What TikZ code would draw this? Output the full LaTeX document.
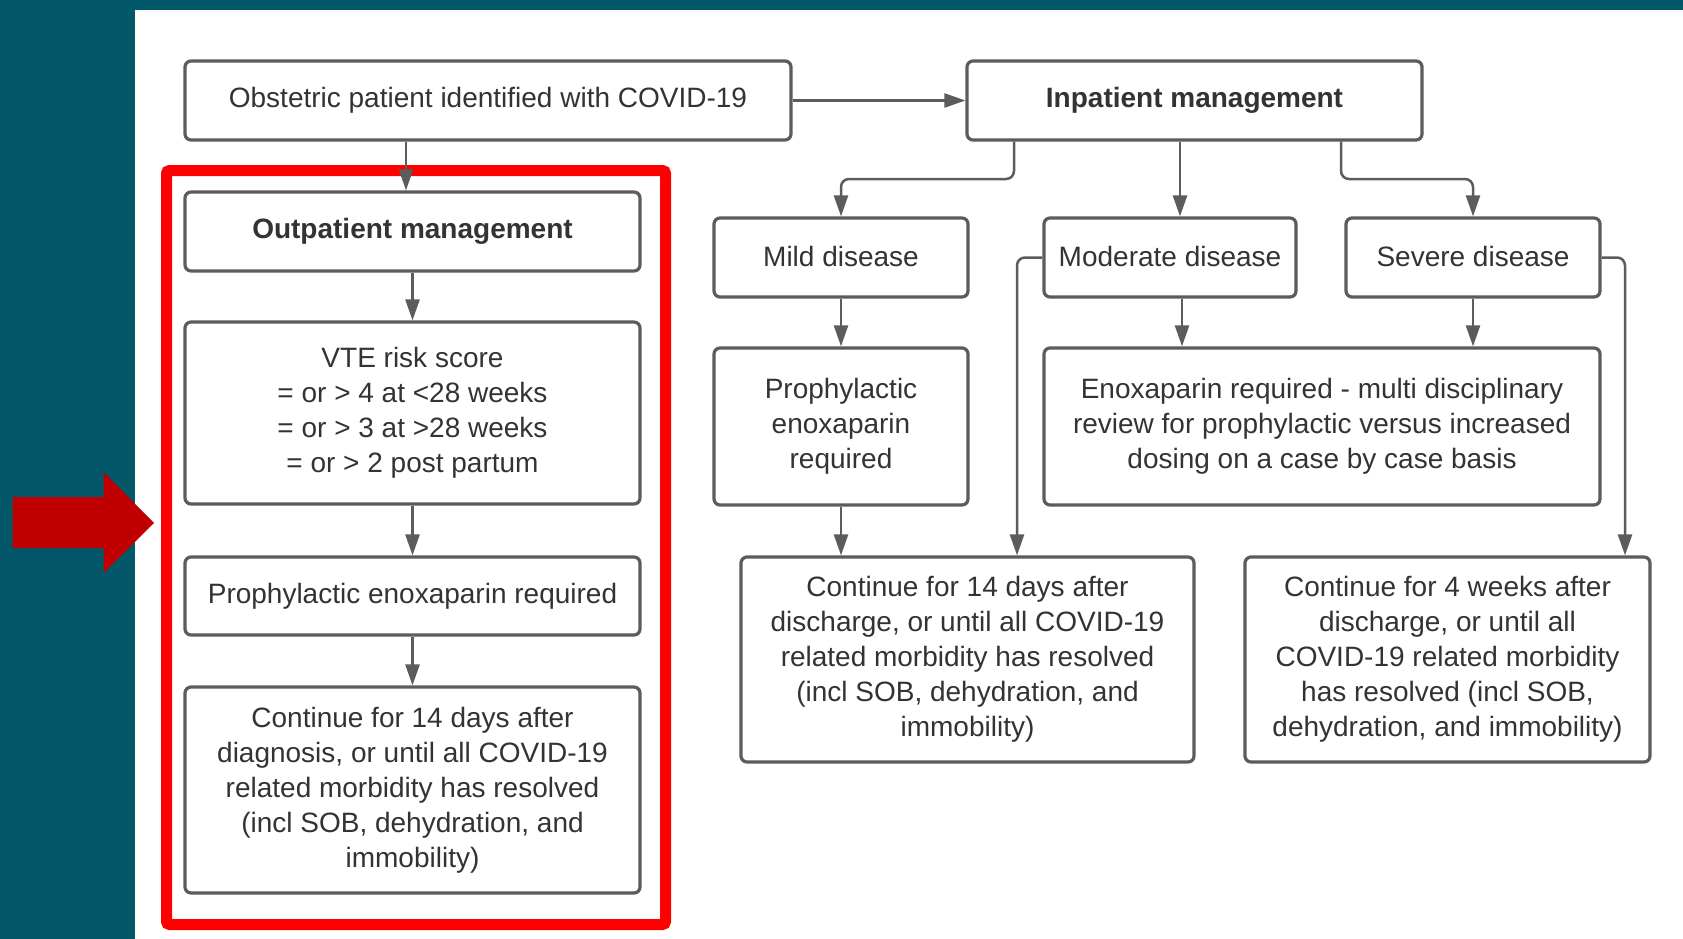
\documentclass[tikz,border=0pt]{standalone}
\usepackage{fontspec}
\setmainfont{Liberation Sans}
\usetikzlibrary{arrows.meta}
\definecolor{teal0}{RGB}{2,87,104}
\definecolor{boxgray}{RGB}{92,92,92}
\definecolor{txt}{RGB}{51,51,51}
\definecolor{darkred}{RGB}{192,0,0}
\definecolor{hlred}{RGB}{255,0,0}
\begin{document}
\begin{tikzpicture}[x=1pt,y=-1pt,
  box/.style={draw=boxgray, line width=3.2pt, rounded corners=6pt, fill=white, text=txt,
    align=center, inner sep=0pt, font=\fontsize{28}{35}\selectfont},
  conn/.style={draw=boxgray, line width=2.5pt, -{Triangle[length=21pt,width=14pt]}, rounded corners=8pt}]
\useasboundingbox (0,0) rectangle (1683,939);
\fill[teal0] (0,0) rectangle (1683,939);
\fill[white] (135,10) rectangle (1683,939);

% highlight frame and pointer
\draw[hlred, line width=11pt, rounded corners=3pt] (166.5,170.5) rectangle (665.5,924.5);
\fill[darkred] (12.5,497) -- (103.6,497) -- (103.6,472) -- (154,523) -- (103.6,573) -- (103.6,548) -- (12.5,548) -- cycle;

% left column
\node[box, minimum width=606pt, minimum height=79pt] (obst) at (488,100.5) {Obstetric patient identified with COVID-19};
\node[box, minimum width=455pt, minimum height=79pt] (inp) at (1194.5,100.5) {\textbf{Inpatient management}};
\node[box, minimum width=455pt, minimum height=79pt] (out) at (412.5,231.5) {\textbf{Outpatient management}};
\node[box, minimum width=455pt, minimum height=182pt] (vte) at (412.5,413) {VTE risk score\\= or > 4 at <28 weeks\\= or > 3 at >28 weeks\\= or > 2 post partum};
\node[box, minimum width=455pt, minimum height=78pt] (prl) at (412.5,596) {Prophylactic enoxaparin required};
\node[box, minimum width=455pt, minimum height=206pt] (col) at (412.5,790) {Continue for 14 days after\\diagnosis, or until all COVID-19\\related morbidity has resolved\\(incl SOB, dehydration, and\\immobility)};

% right side
\node[box, minimum width=254pt, minimum height=79pt] (mild) at (841,257.5) {\raisebox{3pt}{Mild disease}};
\node[box, minimum width=252pt, minimum height=79pt] (mod) at (1170,257.5) {\raisebox{3pt}{Moderate disease}};
\node[box, minimum width=254pt, minimum height=79pt] (sev) at (1473,257.5) {\raisebox{3pt}{Severe disease}};
\node[box, minimum width=254pt, minimum height=157pt] (prm) at (841,426.5) {Prophylactic\\enoxaparin\\required};
\node[box, minimum width=556pt, minimum height=157pt] (enx) at (1322,426.5) {Enoxaparin required - multi disciplinary\\review for prophylactic versus increased\\dosing on a case by case basis};
\node[box, minimum width=453pt, minimum height=205pt] (cm) at (967.5,659.5) {Continue for 14 days after\\discharge, or until all COVID-19\\related morbidity has resolved\\(incl SOB, dehydration, and\\immobility)};
\node[box, minimum width=405pt, minimum height=205pt] (cs) at (1447.5,659.5) {Continue for 4 weeks after\\discharge, or until all\\COVID-19 related morbidity\\has resolved (incl SOB,\\dehydration, and immobility)};

% connectors
\draw[conn] (obst.south -| 406,0) -- (out.north -| 406,0);
\draw[conn] (out.south) -- (vte.north);
\draw[conn] (vte.south) -- (prl.north);
\draw[conn] (prl.south) -- (col.north);
\draw[conn] (obst.east) -- (inp.west);
\draw[conn] (inp.south -| 1014,0) -- (1014,179) -- (mild.north |- 0,179) -- (mild.north);
\draw[conn] (inp.south -| 1180,0) -- (mod.north -| 1180,0);
\draw[conn] (inp.south -| 1341,0) -- (1341,179) -- (sev.north |- 0,179) -- (sev.north);
\draw[conn] (mild.south) -- (prm.north);
\draw[conn] (mod.south -| 1182,0) -- (enx.north -| 1182,0);
\draw[conn] (sev.south) -- (enx.north -| sev.south);
\draw[conn] (prm.south) -- (cm.north -| prm.south);
\draw[conn] (mod.west) -- (mod.west -| 1017,0) -- (cm.north -| 1017,0);
\draw[conn] (sev.east) -- (sev.east -| 1625,0) -- (cs.north -| 1625,0);
\end{tikzpicture}
\end{document}
